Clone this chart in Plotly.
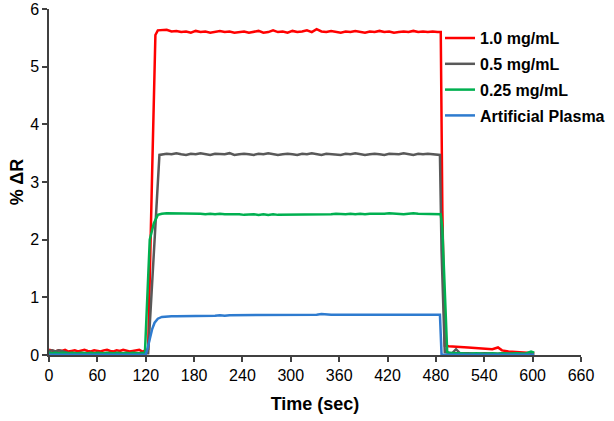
import plotly.graph_objects as go

# ---- shared sample times (sec) ----
base_t = [0, 4, 8, 12, 16, 20, 24, 28, 32, 36, 40, 44, 48, 52, 56, 60, 64, 68, 72, 76,
          80, 84, 88, 92, 96, 100, 104, 108, 112, 116]
plateau_t = [140, 146, 152, 158, 164, 170, 176, 182, 188, 194, 200, 206, 212, 218, 224,
             230, 236, 242, 248, 254, 260, 266, 272, 278, 284, 290, 296, 302, 308, 314,
             320, 326, 332, 338, 344, 350, 356, 362, 368, 374, 380, 386, 392, 398, 404,
             410, 416, 422, 428, 434, 440, 446, 452, 458, 464, 470, 476, 482]
tail_t = [496, 500, 505, 510, 520, 530, 540, 550, 557, 562, 570, 580, 590, 598, 602]

# ---- 1.0 mg/mL ----
red_base = [0.09, 0.08, 0.06, 0.08, 0.07, 0.09, 0.06, 0.07, 0.08, 0.06,
            0.07, 0.09, 0.07, 0.06, 0.08, 0.07, 0.06, 0.08, 0.09, 0.07,
            0.06, 0.08, 0.07, 0.09, 0.08, 0.06, 0.07, 0.08, 0.09, 0.06]
red_rise_t = [120, 123, 128, 132, 135]
red_rise = [0.08, 0.10, 3.2, 5.55, 5.63]
red_plateau = [5.63, 5.64, 5.61, 5.62, 5.60, 5.61, 5.59, 5.62, 5.60, 5.61,
               5.59, 5.60, 5.62, 5.60, 5.61, 5.59, 5.60, 5.61, 5.59, 5.60,
               5.62, 5.59, 5.60, 5.63, 5.60, 5.61, 5.59, 5.62, 5.60, 5.61,
               5.63, 5.60, 5.65, 5.61, 5.60, 5.62, 5.60, 5.59, 5.61, 5.60,
               5.62, 5.60, 5.59, 5.61, 5.60, 5.62, 5.60, 5.61, 5.59, 5.60,
               5.61, 5.60, 5.62, 5.60, 5.61, 5.60, 5.61, 5.60]
red_fall_t = [486, 488, 491]
red_fall = [5.60, 2.5, 0.16]
red_tail = [0.15, 0.15, 0.14, 0.14, 0.13, 0.12, 0.11, 0.10, 0.13, 0.08, 0.06, 0.05, 0.04, 0.03, 0.03]

# ---- 0.5 mg/mL ----
grey_base = [0.07, 0.08, 0.06, 0.08, 0.07, 0.05, 0.03, 0.02, 0.02, 0.03,
             0.02, 0.02, 0.03, 0.02, 0.02, 0.03, 0.02, 0.02, 0.03, 0.02,
             0.02, 0.03, 0.02, 0.02, 0.03, 0.02, 0.02, 0.03, 0.02, 0.02]
grey_rise_t = [120, 123, 137]
grey_rise = [0.02, 0.03, 3.47]
grey_plateau = [3.48, 3.49, 3.48, 3.50, 3.48, 3.47, 3.49, 3.48, 3.50, 3.48,
                3.47, 3.49, 3.48, 3.48, 3.50, 3.47, 3.48, 3.49, 3.48, 3.47,
                3.49, 3.48, 3.50, 3.48, 3.47, 3.48, 3.49, 3.48, 3.47, 3.49,
                3.48, 3.50, 3.48, 3.47, 3.49, 3.48, 3.48, 3.47, 3.49, 3.48,
                3.50, 3.48, 3.47, 3.48, 3.49, 3.48, 3.47, 3.49, 3.48, 3.48,
                3.50, 3.48, 3.47, 3.49, 3.48, 3.49, 3.48, 3.48]
grey_fall_t = [485, 487, 491]
grey_fall = [3.47, 1.8, 0.05]
grey_tail = [0.04, 0.03, 0.10, 0.03, 0.03, 0.02, 0.03, 0.02, 0.02, 0.03, 0.02, 0.02, 0.02, 0.02, 0.02]

# ---- 0.25 mg/mL ----
green_base = [0.04, 0.03, 0.04, 0.03, 0.04, 0.03, 0.03, 0.04, 0.03, 0.03,
              0.04, 0.03, 0.03, 0.04, 0.03, 0.04, 0.03, 0.03, 0.04, 0.03,
              0.03, 0.04, 0.03, 0.03, 0.04, 0.03, 0.04, 0.03, 0.03, 0.04]
green_rise_t = [119, 125, 130, 135]
green_rise = [0.03, 2.0, 2.28, 2.43]
green_plateau = [2.45, 2.46, 2.46, 2.45, 2.46, 2.45, 2.45, 2.46, 2.45, 2.44,
                 2.45, 2.44, 2.45, 2.44, 2.44, 2.45, 2.44, 2.43, 2.44, 2.44,
                 2.43, 2.44, 2.43, 2.44, 2.43, 2.43, 2.44, 2.43, 2.44, 2.43,
                 2.44, 2.43, 2.44, 2.44, 2.43, 2.44, 2.45, 2.44, 2.44, 2.45,
                 2.44, 2.45, 2.44, 2.45, 2.45, 2.44, 2.45, 2.46, 2.45, 2.45,
                 2.44, 2.45, 2.46, 2.45, 2.45, 2.44, 2.45, 2.44]
green_fall_t = [486, 488, 494]
green_fall = [2.44, 2.2, 0.05]
green_tail = [0.04, 0.03, 0.03, 0.03, 0.02, 0.03, 0.02, 0.03, 0.02, 0.03, 0.02, 0.03, 0.02, 0.06, 0.04]

# ---- Artificial Plasma ----
blue_base = [0.005] * 30
blue_rise_t = [120, 122, 125, 128, 131, 135]
blue_rise = [0.005, 0.1, 0.3, 0.45, 0.56, 0.63]
blue_plateau = [0.66, 0.67, 0.67, 0.67, 0.67, 0.68, 0.67, 0.68, 0.68, 0.68,
                0.68, 0.68, 0.69, 0.68, 0.69, 0.69, 0.69, 0.69, 0.69, 0.69,
                0.70, 0.69, 0.70, 0.70, 0.69, 0.70, 0.70, 0.70, 0.70, 0.70,
                0.70, 0.70, 0.70, 0.71, 0.70, 0.70, 0.70, 0.70, 0.71, 0.70,
                0.70, 0.70, 0.71, 0.70, 0.70, 0.70, 0.71, 0.70, 0.70, 0.70,
                0.71, 0.70, 0.70, 0.70, 0.71, 0.70, 0.70, 0.70]
blue_fall_t = [485, 486, 487]
blue_fall = [0.70, 0.35, 0.005]
blue_tail = [0.005] * 15

names = ["1.0 mg/mL", "0.5 mg/mL", "0.25 mg/mL", "Artificial Plasma"]
colors = ["#FF0000", "#595959", "#00B050", "#2E7BCF"]
x_ticks = [0, 60, 120, 180, 240, 300, 360, 420, 480, 540, 600, 660]
y_ticks = [0, 1, 2, 3, 4, 5, 6]

series = [
    (red_base, red_rise_t, red_rise, red_plateau, red_fall_t, red_fall, red_tail),
    (grey_base, grey_rise_t, grey_rise, grey_plateau, grey_fall_t, grey_fall, grey_tail),
    (green_base, green_rise_t, green_rise, green_plateau, green_fall_t, green_fall, green_tail),
    (blue_base, blue_rise_t, blue_rise, blue_plateau, blue_fall_t, blue_fall, blue_tail),
]

fig = go.Figure()
for i, ((b, rt, r, p, ft, f, tl), name, col) in enumerate(zip(series, names, colors)):
    xs = base_t + rt + plateau_t + ft + tail_t
    ys = b + r + p + f + tl
    assert len(xs) == len(ys)
    fig.add_trace(go.Scatter(x=xs, y=ys, mode="lines", name=name, legendgroup=f"g{i}",
                             line=dict(color=col, width=2.5)))

font = "Arial, Liberation Sans, sans-serif"
fig.update_layout(
    width=614, height=421,
    margin=dict(l=49, r=33, t=9, b=66, autoexpand=False),
    plot_bgcolor="white", paper_bgcolor="white",
    font=dict(family=font, color="black", size=16),
    showlegend=True,
    legend=dict(x=0.735, y=0.965, xanchor="left", yanchor="top",
                font=dict(family=font, size=16, color="black", weight="bold"),
                bgcolor="rgba(0,0,0,0)", tracegroupgap=2, itemwidth=30),
    xaxis=dict(range=[0, 660], tickvals=x_ticks, showgrid=False, zeroline=False,
               showline=True, linecolor="#404040", linewidth=1.5,
               ticks="outside", ticklen=5, tickwidth=1.5, tickcolor="#404040",
               tickfont=dict(size=16),
               title=dict(text="<b>Time (sec)</b>", font=dict(size=18), standoff=14)),
    yaxis=dict(range=[0, 6], tickvals=y_ticks, showgrid=False, zeroline=False,
               showline=True, linecolor="#404040", linewidth=1.5,
               ticks="outside", ticklen=5, tickwidth=1.5, tickcolor="#404040",
               tickfont=dict(size=16),
               title=dict(text="<b>% ΔR</b>", font=dict(size=18), standoff=2)),
)
fig.write_html("out.html")
